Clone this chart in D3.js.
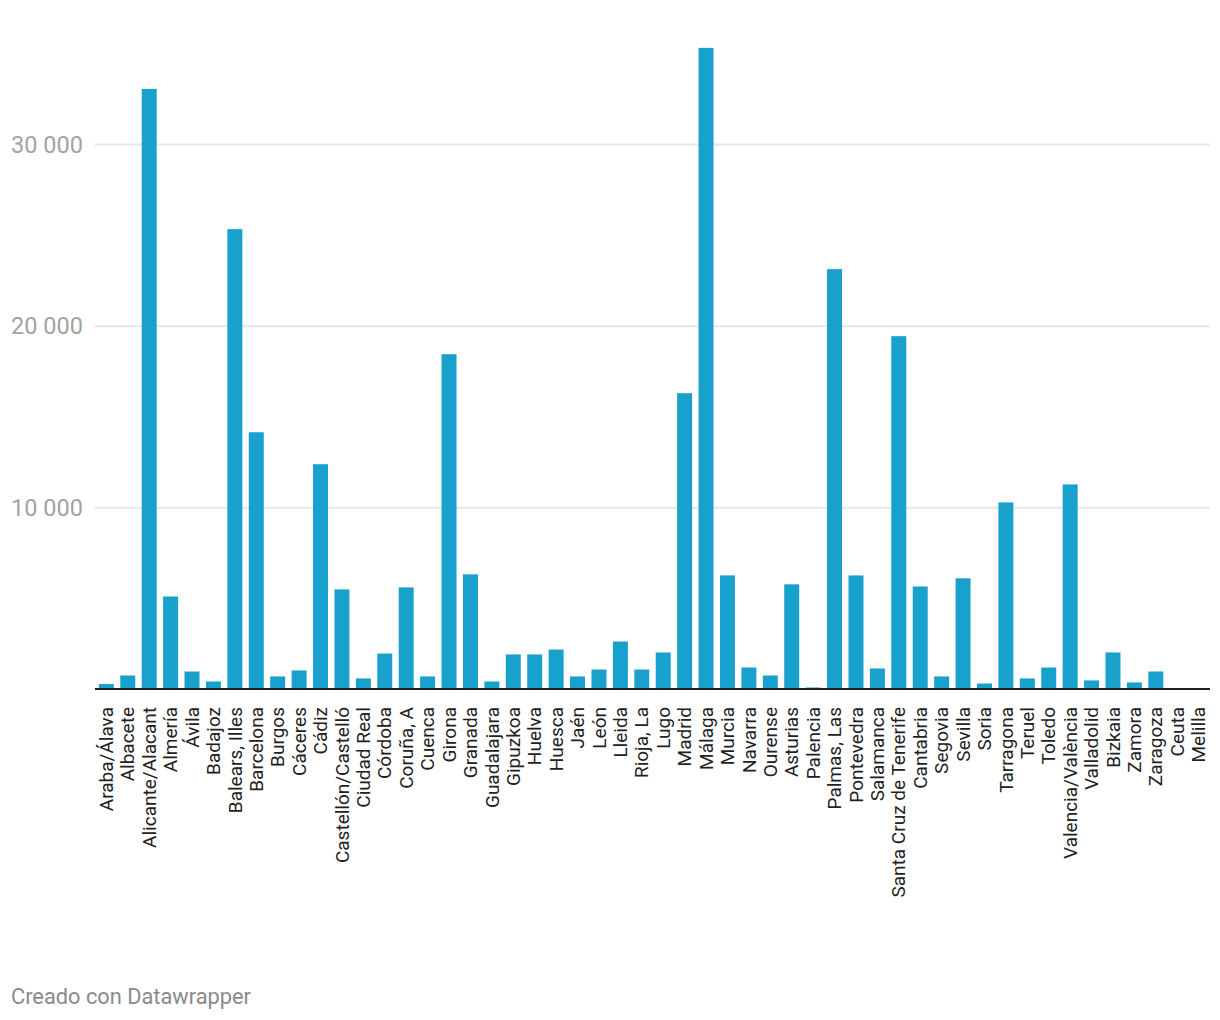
<!DOCTYPE html>
<html>
<head>
<meta charset="utf-8">
<script src="https://cdn.jsdelivr.net/npm/d3@7"></script>
<style>
  html, body { margin: 0; padding: 0; background: #fff; }
  svg { display: block; font-family: Roboto, "Noto Sans", sans-serif; }
</style>
</head>
<body>
<svg id="chart" width="1220" height="1020"></svg>
<script>
const provinces = ["Araba/Álava","Albacete","Alicante/Alacant","Almería","Ávila","Badajoz","Balears, Illes","Barcelona","Burgos","Cáceres","Cádiz","Castellón/Castelló","Ciudad Real","Córdoba","Coruña, A","Cuenca","Girona","Granada","Guadalajara","Gipuzkoa","Huelva","Huesca","Jaén","León","Lleida","Rioja, La","Lugo","Madrid","Málaga","Murcia","Navarra","Ourense","Asturias","Palencia","Palmas, Las","Pontevedra","Salamanca","Santa Cruz de Tenerife","Cantabria","Segovia","Sevilla","Soria","Tarragona","Teruel","Toledo","Valencia/València","Valladolid","Bizkaia","Zamora","Zaragoza","Ceuta","Melilla"];
const values = [300,770,33060,5120,990,440,25340,14160,720,1050,12400,5510,610,1980,5620,720,18460,6340,440,1930,1930,2200,720,1100,2640,1100,2040,16310,35320,6280,1210,770,5790,110,23140,6280,1160,19450,5670,720,6120,330,10300,610,1210,11290,500,2040,390,990,0,0];
const yTicks = [10000, 20000, 30000];
const footer = "Creado con Datawrapper";

const svg = d3.select("#chart");
const x = d3.scaleBand().domain(provinces).range([95, 1210]).paddingInner(0.3).paddingOuter(0.18);
const y = d3.scaleLinear().domain([0, 30000]).range([689.5, 144.5]);
const fmt = d3.formatLocale({decimal: ",", thousands: " ", grouping: [3], currency: ["", "€"]}).format(",d");

// gridlines
svg.append("g").selectAll("line").data(yTicks).join("line")
  .attr("x1", 95).attr("x2", 1210)
  .attr("y1", d => y(d)).attr("y2", d => y(d))
  .attr("stroke", "#e6e6e6").attr("stroke-width", 2);

// y tick labels
svg.append("g").selectAll("text").data(yTicks).join("text")
  .attr("x", 11).attr("y", d => y(d)).attr("dy", "0.35em")
  .attr("font-size", 23.5).attr("fill", "#a3a3a3")
  .text(d => fmt(d));

// bars
svg.append("g").selectAll("rect").data(provinces).join("rect")
  .attr("x", d => x(d)).attr("width", x.bandwidth())
  .attr("y", (d, i) => y(values[i]))
  .attr("height", (d, i) => y(0) - y(values[i]))
  .attr("fill", "#18a1cd");

// baseline
svg.append("line").attr("x1", 95).attr("x2", 1210)
  .attr("y1", 689).attr("y2", 689)
  .attr("stroke", "#1d1d1d").attr("stroke-width", 2);

// x labels
svg.append("g").selectAll("text").data(provinces).join("text")
  .attr("transform", d => `translate(${x(d) + x.bandwidth() / 2},707) rotate(-90)`)
  .attr("text-anchor", "end").attr("dy", "0.35em")
  .attr("font-size", 19).attr("fill", "#222")
  .text(d => d);

// footer
svg.append("text").attr("x", 11).attr("y", 1004)
  .attr("font-size", 21.8).attr("fill", "#8a8a8a")
  .text(footer);
</script>
</body>
</html>
